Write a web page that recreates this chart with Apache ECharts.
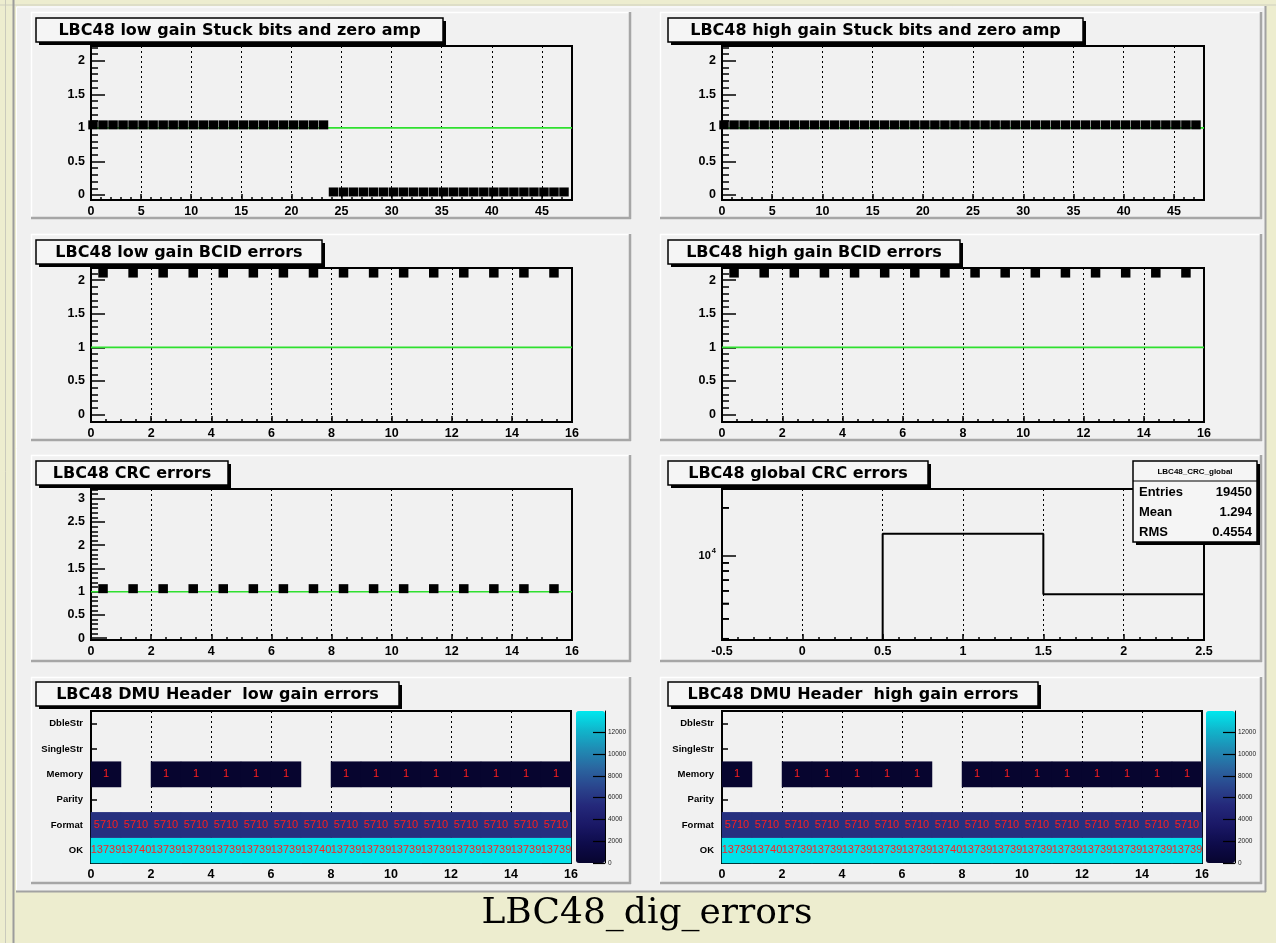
<!DOCTYPE html>
<html><head><meta charset="utf-8">
<script src="https://cdn.jsdelivr.net/npm/echarts@6.0.0/dist/echarts.min.js"></script>
<style>html,body{margin:0;padding:0;background:#ededcf;}#c{width:1276px;height:943px;}</style>
</head><body><div id="c"></div>
<script>
// ---------------- data ----------------
const lowStuck  = [1,1,1,1,1,1,1,1,1,1,1,1,1,1,1,1,1,1,1,1,1,1,1,1, 0,0,0,0,0,0,0,0,0,0,0,0,0,0,0,0,0,0,0,0,0,0,0,0];
const highStuck = [1,1,1,1,1,1,1,1,1,1,1,1,1,1,1,1,1,1,1,1,1,1,1,1, 1,1,1,1,1,1,1,1,1,1,1,1,1,1,1,1,1,1,1,1,1,1,1,1];
const lowBCID  = [2.06,2.06,2.06,2.06,2.06,2.06,2.06,2.06,2.06,2.06,2.06,2.06,2.06,2.06,2.06,2.06];
const highBCID = [2.06,2.06,2.06,2.06,2.06,2.06,2.06,2.06,2.06,2.06,2.06,2.06,2.06,2.06,2.06,2.06];
const crcErrors = [1,1,1,1,1,1,1,1,1,1,1,1,1,1,1,1];
const refLevel = 1;
const crcGlobalEdges  = [-0.5, 0.5, 1.5, 2.5];
const crcGlobalCounts = [0, 13740, 5710];
const statLabels = ['Entries', 'Mean', 'RMS'];
const statValues = ['19450', '1.294', '0.4554'];
const statName = 'LBC48_CRC_global';
const dmuRows = ['OK', 'Format', 'Parity', 'Memory', 'SingleStr', 'DbleStr'];
const lowOK      = [13739,13740,13739,13739,13739,13739,13739,13740,13739,13739,13739,13739,13739,13739,13739,13739];
const lowFormat  = [5710,5710,5710,5710,5710,5710,5710,5710,5710,5710,5710,5710,5710,5710,5710,5710];
const lowParity  = [0,0,0,0,0,0,0,0,0,0,0,0,0,0,0,0];
const lowMemory  = [1,0,1,1,1,1,1,0,1,1,1,1,1,1,1,1];
const lowSingle  = [0,0,0,0,0,0,0,0,0,0,0,0,0,0,0,0];
const lowDble    = [0,0,0,0,0,0,0,0,0,0,0,0,0,0,0,0];
const highOK     = [13739,13740,13739,13739,13739,13739,13739,13740,13739,13739,13739,13739,13739,13739,13739,13739];
const highFormat = [5710,5710,5710,5710,5710,5710,5710,5710,5710,5710,5710,5710,5710,5710,5710,5710];
const highParity = [0,0,0,0,0,0,0,0,0,0,0,0,0,0,0,0];
const highMemory = [1,0,1,1,1,1,1,0,1,1,1,1,1,1,1,1];
const highSingle = [0,0,0,0,0,0,0,0,0,0,0,0,0,0,0,0];
const highDble   = [0,0,0,0,0,0,0,0,0,0,0,0,0,0,0,0];
const yTicks2 = [0, 0.5, 1, 1.5, 2];
const yTicks3 = [0, 0.5, 1, 1.5, 2, 2.5, 3];
const logTicks = [10000];
const logMinor = [3000,4000,5000,6000,7000,8000,9000,20000];
const paletteTicks = [0, 2000, 4000, 6000, 8000, 10000, 12000];
const paletteMax = 13950;
const titles = [
  'LBC48 low gain Stuck bits and zero amp', 'LBC48 high gain Stuck bits and zero amp',
  'LBC48 low gain BCID errors', 'LBC48 high gain BCID errors',
  'LBC48 CRC errors', 'LBC48 global CRC errors',
  'LBC48 DMU Header  low gain errors', 'LBC48 DMU Header  high gain errors'
];
const canvasTitle = 'LBC48_dig_errors';

// ---------------- layout ----------------
const PADS_X = [[31,631],[660,1262]];
const PADS_Y = [[12,219],[234,441],[455,662],[677,884]];
const FRAME_X = [[91,481],[722,482]];
const FRAME_Y = [[46,154],[268,154],[489,151],[711,152]];
const HEAT_W = 480;
const TITLE_Y = [18,240,461,682];
const TITLE_X = [[36,407],[668,415],[36,286],[668,292],[36,192],[668,260],[36,363],[668,370]];
const PALETTE_X = [576, 1206];
const PALETTE_W = 29;
const paletteColors = ['#07052f','#0e0b4a','#1a1866','#24287a','#2a458d','#2a66a0','#1f8cb4','#10b6cc','#00e8ee'];

const grids = [], xAxes = [], yAxes = [], series = [], graphics = [], visualMaps = [];
const LAB = {color:'#000', fontFamily:'Liberation Sans', fontWeight:'bold', fontSize:12.5};
const fmt = v => String(+(+v).toFixed(4));
const AXLINE = {show:true, onZero:false, lineStyle:{color:'#000', width:2}};

function addGrid(l, t, w, h, show) {
  grids.push({left:l, top:t, width:w, height:h, show: show !== false, borderColor:'#000', borderWidth:2, backgroundColor:'transparent'});
  return grids.length - 1;
}
function xValueAxis(gi, min, max, interval, minorSplit) {
  const steps = (max - min) / interval;
  xAxes.push({type:'value', gridIndex:gi, min, max, interval, position:'bottom',
    axisLine:AXLINE,
    axisTick:{show:true, inside:true, length:6, lineStyle:{color:'#000', width:1.5}},
    minorTick:{show:true, splitNumber:minorSplit, length:3, lineStyle:{color:'#000', width:1.5}},
    splitLine:{show:true, lineStyle:{color:'#000', width:1, type:[2,3]}},
    minorSplitLine:{show:false},
    axisLabel:Object.assign({}, LAB, {margin:5, formatter:fmt, showMaxLabel: Math.abs(steps - Math.round(steps)) < 1e-9})
  });
  return xAxes.length - 1;
}
function minorVals(min, max, step, majors) {
  const out = [];
  for (let k = Math.ceil(min/step); k*step <= max + 1e-9; k++) {
    const v = +(k*step).toFixed(6);
    if (!majors.some(m => Math.abs(m - v) < 1e-6)) out.push(v);
  }
  return out;
}
function yValueAxis(gi, type, min, max, ticks, minors, labelFmt, rich) {
  yAxes.push({type, gridIndex:gi, min, max, position:'left',
    axisLine:AXLINE,
    axisTick:{show:true, inside:true, length:14, customValues:ticks, lineStyle:{color:'#000', width:1.5}},
    axisLabel:Object.assign({}, LAB, {margin:6, customValues:ticks, formatter:labelFmt || fmt}, rich ? {rich} : {}),
    splitLine:{show:false}, minorTick:{show:false}
  });
  const major = yAxes.length - 1;
  yAxes.push({type, gridIndex:gi, min, max, position:'left',
    axisLine:AXLINE,
    axisTick:{show:true, inside:true, length:7, customValues:minors, lineStyle:{color:'#000', width:1.5}},
    axisLabel:{show:false, customValues:minors}, splitLine:{show:false}, minorTick:{show:false}
  });
  return major;
}
function markerPanel(row, col, values, xmax, xint, xminor, ymin, ymax, ticks) {
  const gi = addGrid(FRAME_X[col][0], FRAME_Y[row][0], FRAME_X[col][1], FRAME_Y[row][1]);
  const xi = xValueAxis(gi, 0, xmax, xint, xminor);
  const yi = yValueAxis(gi, 'value', ymin, ymax, ticks, minorVals(ymin, ymax, 0.1, ticks));
  series.push({type:'line', xAxisIndex:xi, yAxisIndex:yi, data:[[0, refLevel],[xmax, refLevel]],
    symbol:'none', silent:true, z:2, lineStyle:{color:'#2fe02f', width:1.6}, animation:false});
  series.push({type:'scatter', xAxisIndex:xi, yAxisIndex:yi,
    data: values.map((v, i) => [i + 0.5, v]),
    symbol:'rect', symbolSize:[9.5, 9], symbolOffset:[-3, -3],
    itemStyle:{color:'#000', opacity:1, borderWidth:0}, silent:true, z:3, animation:false});
}

// Row 1 & 2 & 3-left
markerPanel(0, 0, lowStuck, 48, 5, 5, -0.075, 2.22, yTicks2);
markerPanel(0, 1, highStuck, 48, 5, 5, -0.075, 2.22, yTicks2);
markerPanel(1, 0, lowBCID, 16, 2, 4, -0.11, 2.18, yTicks2);
markerPanel(1, 1, highBCID, 16, 2, 4, -0.11, 2.18, yTicks2);
markerPanel(2, 0, crcErrors, 16, 2, 4, -0.04, 3.21, yTicks3);

// Row 3 right: global CRC (log y)
(function(){
  const gi = addGrid(FRAME_X[1][0], FRAME_Y[2][0], FRAME_X[1][1], FRAME_Y[2][1]);
  const xi = xValueAxis(gi, -0.5, 2.5, 0.5, 5);
  const ymin = 2944, ymax = 26230;
  const yi = yValueAxis(gi, 'log', ymin, ymax, logTicks, logMinor,
    () => '{b|10}{s|4}', {b:{fontSize:11, fontWeight:'bold', fontFamily:'Liberation Sans'}, s:{fontSize:7.5, fontWeight:'bold', fontFamily:'Liberation Sans', padding:[0,0,9,1]}});
  const pts = [[crcGlobalEdges[0], ymin]];
  crcGlobalCounts.forEach((c, i) => {
    const v = c > ymin ? c : ymin;
    pts.push([crcGlobalEdges[i], v]);
    pts.push([crcGlobalEdges[i+1], v]);
  });
  pts.push([crcGlobalEdges[crcGlobalEdges.length-1], ymin]);
  series.push({type:'line', xAxisIndex:xi, yAxisIndex:yi, data:pts, symbol:'none', silent:true, z:3,
    lineStyle:{color:'#000', width:2}, animation:false});
  // minor ticks on the log axis, drawn through the axis scale
  series.push({type:'custom', xAxisIndex:xi, yAxisIndex:yi, silent:true, z:5, clip:false,
    data: logMinor.map(v => [-0.5, v]),
    renderItem: (params, api) => {
      const p = api.coord([api.value(0), api.value(1)]);
      return {type:'line', shape:{x1:p[0], y1:p[1], x2:p[0] + 7, y2:p[1]}, style:{stroke:'#000', lineWidth:1.5}};
    }, animation:false});
})();

// Row 4: DMU header heatmaps
function dmuPanel(col, rowsData) {
  const gi = addGrid(FRAME_X[col][0], FRAME_Y[3][0], HEAT_W, FRAME_Y[3][1]);
  const bins = rowsData[0].map((_, i) => String(i));
  xAxes.push({type:'category', gridIndex:gi, data:bins, show:false, position:'bottom'});
  const xc = xAxes.length - 1;
  xValueAxis(gi, 0, 16, 2, 4);
  yAxes.push({type:'category', gridIndex:gi, data:dmuRows, position:'left',
    axisLine:AXLINE,
    axisTick:{show:true, inside:true, alignWithLabel:true, length:6, lineStyle:{color:'#000', width:1.5}},
    axisLabel:Object.assign({}, LAB, {fontSize:9.5, margin:8}),
    splitLine:{show:false}});
  const yc = yAxes.length - 1;
  const data = [];
  rowsData.forEach((arr, r) => arr.forEach((v, i) => { if (v > 0) data.push([i, r, v]); }));
  series.push({type:'heatmap', xAxisIndex:xc, yAxisIndex:yc, data, z:2, silent:true,
    itemStyle:{borderWidth:0},
    label:{show:true, color:'#ff1e1e', fontSize:11, fontFamily:'Liberation Sans', formatter:p => String(p.value[2])},
    emphasis:{disabled:true}, animation:false});
  const si = series.length - 1;
  visualMaps.push({type:'continuous', seriesIndex:si, min:0, max:paletteMax, calculable:false, orient:'vertical',
    left:PALETTE_X[col], top:FRAME_Y[3][0], itemWidth:PALETTE_W, itemHeight:FRAME_Y[3][1], padding:0, text:null,
    showLabel:false, hoverLink:false, inRange:{color:paletteColors}});
  // palette axis
  const pg = addGrid(PALETTE_X[col], FRAME_Y[3][0], PALETTE_W, FRAME_Y[3][1], false);
  xAxes.push({type:'category', gridIndex:pg, data:[''], show:false});
  yAxes.push({type:'value', gridIndex:pg, min:0, max:paletteMax, position:'right',
    axisLine:{show:true, onZero:false, lineStyle:{color:'#000', width:1}},
    axisTick:{show:true, inside:true, length:12, customValues:paletteTicks, lineStyle:{color:'#000', width:1.2}},
    axisLabel:{customValues:paletteTicks, fontSize:6.5, color:'#222', fontFamily:'Liberation Sans', margin:3, formatter:v => String(v)},
    splitLine:{show:false}, z:6});
}
dmuPanel(0, [lowOK, lowFormat, lowParity, lowMemory, lowSingle, lowDble]);
dmuPanel(1, [highOK, highFormat, highParity, highMemory, highSingle, highDble]);

// ---------------- decorations ----------------
function gRect(x, y, w, h, style, z) { graphics.push({type:'rect', shape:{x, y, width:w, height:h}, style, z, silent:true}); }
function gLine(x1, y1, x2, y2, stroke, lw, z) { graphics.push({type:'line', shape:{x1, y1, x2, y2}, style:{stroke, lineWidth:lw}, z, silent:true}); }
function gText(x, y, t, font, align, z, fill) { graphics.push({type:'text', x, y, style:{text:t, font, fill:fill || '#000', align, verticalAlign:'middle'}, z, silent:true}); }

// outer canvas
gRect(16, 6, 1249, 885, {fill:'#f0f0f0'}, -20);
gLine(0, 5, 1276, 5, '#cfcfbf', 1, -19);
gLine(5.5, 0, 5.5, 943, '#cacabc', 1, -19);
gLine(13.5, 0, 13.5, 943, '#9c9c9c', 2, -19);
gLine(16, 891.5, 1266, 891.5, '#a2a2a2', 2, -19);
gLine(1265.5, 6, 1265.5, 892, '#a2a2a2', 2, -19);
gLine(17, 7, 1264, 7, '#ffffff', 1, -19);
gLine(16.5, 7, 16.5, 890, '#ffffff', 1, -19);
// pads
PADS_Y.forEach(([t, b]) => PADS_X.forEach(([l, r]) => {
  gRect(l, t, r - l, b - t, {fill:'#f1f1f1'}, -15);
  gLine(l, t + 0.5, r, t + 0.5, '#ffffff', 1.5, -14);
  gLine(l + 0.5, t, l + 0.5, b, '#ffffff', 1.5, -14);
  gLine(l, b - 1, r, b - 1, '#a6a6a6', 2.5, -14);
  gLine(r - 1, t, r - 1, b, '#a6a6a6', 2.5, -14);
}));
// title boxes
titles.forEach((t, k) => {
  const row = Math.floor(k / 2);
  const [x, w] = TITLE_X[k];
  const y = TITLE_Y[row], h = 24;
  gRect(x + 3, y + 3, w, h, {fill:'#000'}, 20);
  gRect(x, y, w, h, {fill:'#f5f5f5', stroke:'#000', lineWidth:1.5}, 21);
  gText(x + w / 2, y + h / 2 + 0.5, t, "bold 16px 'DejaVu Sans'", 'center', 22);
});
// stats box
(function(){
  const x = 1133, y = 461, w = 124, h = 81;
  gRect(x + 3, y + 3, w, h, {fill:'#000'}, 20);
  gRect(x, y, w, h, {fill:'#f5f5f5', stroke:'#000', lineWidth:1.5}, 21);
  gLine(x, y + 20, x + w, y + 20, '#000', 1.2, 22);
  gText(x + w / 2, y + 10.5, statName, "bold 8px 'Liberation Sans'", 'center', 22);
  statLabels.forEach((s, i) => {
    gText(x + 6, y + 31 + i * 20, s, "bold 13px 'Liberation Sans'", 'left', 22);
    gText(x + w - 5, y + 31 + i * 20, statValues[i], "bold 13px 'Liberation Sans'", 'right', 22);
  });
})();
gText(647, 914, canvasTitle, "36px 'DejaVu Serif'", 'center', 22);

const chart = echarts.init(document.getElementById('c'), null, {width:1276, height:943});
chart.setOption({
  animation:false,
  backgroundColor:'#ededcf',
  grid:grids, xAxis:xAxes, yAxis:yAxes, series, visualMap:visualMaps,
  graphic:{elements:graphics}
});
</script></body></html>
